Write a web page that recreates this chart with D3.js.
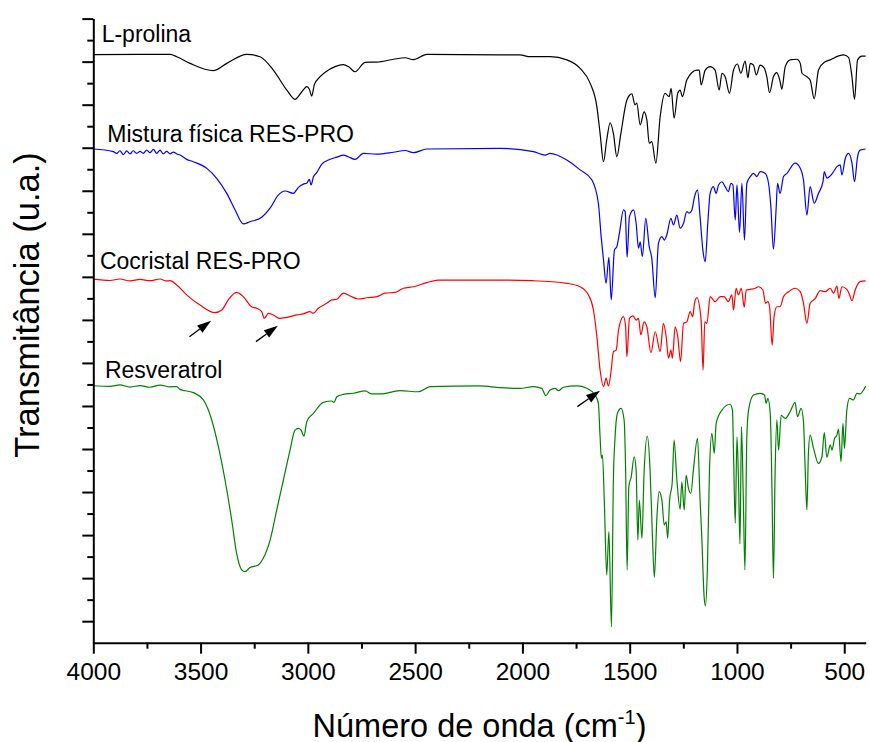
<!DOCTYPE html>
<html>
<head>
<meta charset="utf-8">
<script src="https://cdn.jsdelivr.net/npm/d3@7/dist/d3.min.js"></script>
<style>
  html, body { margin: 0; padding: 0; background: #fff; }
  svg { display: block; }
  text { font-family: Arial, "Liberation Sans", Helvetica, sans-serif; fill: #000; }
</style>
</head>
<body>
<svg id="chart" width="869" height="742"></svg>
<script>
// ---- Data (wavenumber cm-1, transmittance in arbitrary stacked units) ----
const lProlina = [
[4000,27.33],[3642,27.34],[3611,27.23],[3549,26.92],[3441,26.58],[3378,26.92],[3285,27.34],[3223,27.23],[3161,26.61],[3098,25.68],[3060,25.25],[3028,25.60],[3005,25.84],[2993,25.72],[2982,25.40],[2970,25.92],[2943,26.30],[2904,26.61],[2873,26.77],[2835,26.86],[2811,26.77],[2780,26.53],[2733,26.97],[2679,26.98],[2601,27.11],[2547,27.18],[2508,27.09],[2446,27.34],[2104,27.31],[2011,27.31],[1964,27.23],[1871,27.23],[1793,27.08],[1731,26.69],[1684,25.99],[1653,24.91],[1638,23.67],[1622,22.35],[1607,23.36],[1591,24.16],[1576,23.67],[1560,22.58],[1541,23.67],[1513,25.22],[1490,25.50],[1475,24.99],[1467,25.07],[1451,24.06],[1433,24.67],[1420,24.29],[1409,23.21],[1397,23.28],[1378,22.28],[1358,24.44],[1335,25.53],[1316,25.37],[1307,25.76],[1293,24.37],[1276,25.53],[1265,25.68],[1254,25.37],[1234,26.15],[1187,26.61],[1176,26.61],[1167,25.92],[1148,26.61],[1125,26.77],[1102,26.61],[1083,25.68],[1070,26.46],[1055,26.30],[1035,25.53],[1016,26.61],[998,26.89],[982,26.46],[962,27.03],[949,26.25],[938,26.92],[923,26.84],[910,26.38],[892,26.84],[872,26.69],[861,26.30],[848,25.56],[830,26.30],[814,26.49],[799,26.07],[791,25.72],[775,26.77],[752,27.08],[721,27.11],[705,26.92],[697,26.46],[674,26.30],[659,26.15],[640,25.27],[620,26.61],[589,27.00],[565,27.08],[550,27.16],[503,27.31],[480,27.20],[464,26.30],[452,25.25],[438,27.08],[418,27.26],[400,27.26]
];
const misturaFisica = [
[4000,22.94],[3907,22.82],[3891,22.74],[3876,22.86],[3860,22.68],[3844,22.85],[3829,22.71],[3814,22.86],[3798,22.74],[3782,22.83],[3767,22.74],[3751,22.89],[3736,22.77],[3720,22.92],[3704,22.74],[3689,22.89],[3674,22.71],[3658,22.83],[3642,22.71],[3627,22.80],[3611,22.71],[3596,22.66],[3565,22.46],[3534,22.35],[3471,22.04],[3425,21.58],[3378,20.88],[3339,20.11],[3301,19.46],[3270,19.56],[3215,19.77],[3176,20.19],[3138,20.80],[3106,20.99],[3068,20.88],[3044,21.16],[3021,21.31],[3005,21.35],[2993,21.53],[2985,21.27],[2974,21.65],[2959,21.84],[2935,22.24],[2904,22.43],[2865,22.56],[2834,22.66],[2811,22.58],[2780,22.46],[2741,22.74],[2679,22.70],[2601,22.79],[2547,22.87],[2508,22.77],[2446,22.94],[2104,22.97],[1949,22.82],[1894,22.66],[1871,22.74],[1793,22.43],[1731,21.97],[1676,21.50],[1646,20.42],[1633,18.87],[1622,17.78],[1610,16.70],[1597,17.91],[1586,15.93],[1571,18.25],[1560,18.40],[1548,19.02],[1529,20.11],[1521,20.03],[1512,17.91],[1501,19.80],[1482,20.11],[1470,19.49],[1459,18.33],[1451,18.63],[1441,17.94],[1425,19.72],[1409,18.40],[1397,17.86],[1381,16.03],[1366,18.56],[1350,18.87],[1339,18.71],[1327,18.95],[1308,19.72],[1296,19.41],[1280,19.87],[1265,19.26],[1249,19.49],[1234,20.03],[1223,19.96],[1210,20.11],[1198,20.72],[1184,21.03],[1172,19.80],[1159,18.25],[1148,17.70],[1136,19.49],[1125,20.88],[1110,21.19],[1097,20.88],[1086,21.27],[1070,21.42],[1055,21.19],[1040,20.96],[1028,21.35],[1019,21.27],[1008,19.64],[1000,21.27],[988,19.07],[977,21.35],[965,18.71],[954,21.35],[938,21.66],[923,21.81],[907,21.66],[892,21.89],[869,21.81],[853,21.35],[842,20.26],[830,18.29],[817,20.26],[811,21.35],[799,20.88],[783,21.66],[767,21.81],[729,22.28],[705,22.05],[690,21.50],[674,19.87],[659,21.19],[640,20.42],[620,20.88],[599,21.42],[593,21.89],[581,21.59],[557,21.78],[534,22.12],[519,22.20],[511,21.73],[495,22.51],[480,22.74],[464,22.28],[452,21.42],[438,22.58],[426,22.89],[400,22.94]
];
const cocristal = [
[4000,16.89],[3922,16.83],[3876,16.90],[3829,16.81],[3782,16.88],[3736,16.82],[3689,16.90],[3661,16.81],[3642,16.82],[3611,16.62],[3565,16.16],[3503,15.69],[3433,15.34],[3401,15.46],[3371,15.93],[3332,16.28],[3301,16.08],[3262,15.61],[3238,15.54],[3215,15.38],[3203,15.07],[3184,15.30],[3161,15.23],[3133,15.07],[3098,15.12],[3052,15.23],[3021,15.28],[2990,15.38],[2974,15.31],[2951,15.54],[2912,15.77],[2889,15.93],[2865,15.96],[2834,16.24],[2803,16.11],[2765,15.97],[2725,16.03],[2679,16.08],[2640,16.24],[2593,16.28],[2555,16.47],[2508,16.54],[2446,16.73],[2392,16.85],[2104,16.85],[1949,16.82],[1793,16.70],[1731,16.54],[1692,16.16],[1669,15.46],[1653,14.22],[1638,12.67],[1622,11.90],[1610,12.29],[1599,11.93],[1586,12.67],[1576,13.52],[1563,13.60],[1552,14.53],[1529,15.15],[1519,14.68],[1513,13.29],[1501,15.07],[1485,15.19],[1470,14.99],[1459,15.07],[1448,14.30],[1433,14.91],[1420,14.68],[1401,13.48],[1381,14.45],[1358,13.52],[1343,14.84],[1330,14.22],[1319,13.22],[1308,13.60],[1301,13.22],[1288,14.68],[1276,14.22],[1263,13.06],[1249,14.84],[1234,14.91],[1218,15.38],[1206,15.15],[1198,15.77],[1187,16.03],[1167,14.99],[1158,12.67],[1150,14.91],[1140,14.84],[1125,16.08],[1102,15.85],[1078,16.08],[1060,16.08],[1040,15.85],[1024,16.16],[1016,15.46],[1004,16.47],[993,16.16],[980,16.47],[966,15.59],[957,16.39],[938,16.42],[915,16.47],[900,16.54],[879,16.39],[867,15.77],[856,15.85],[848,15.61],[836,13.83],[827,15.15],[814,15.61],[799,15.61],[783,16.08],[759,16.31],[729,16.47],[705,16.31],[690,15.77],[674,14.84],[659,15.77],[635,16.00],[612,16.36],[589,16.31],[565,16.47],[550,16.24],[534,16.57],[525,16.00],[511,16.54],[488,16.42],[475,16.16],[464,15.89],[449,16.39],[426,16.78],[400,16.81]
];
const resveratrol = [
[4000,11.94],[3922,11.91],[3876,11.98],[3829,11.88],[3782,11.95],[3736,11.87],[3689,11.97],[3642,11.89],[3611,11.90],[3596,11.77],[3534,11.62],[3487,11.28],[3448,10.35],[3417,9.11],[3386,7.56],[3355,5.70],[3332,4.15],[3308,3.38],[3293,3.30],[3270,3.49],[3231,3.61],[3208,3.92],[3176,4.77],[3145,6.17],[3114,7.56],[3083,8.95],[3060,9.88],[3044,9.96],[3032,9.88],[3018,9.60],[3005,10.27],[2974,10.66],[2928,11.17],[2889,11.23],[2878,11.17],[2865,11.43],[2834,11.54],[2788,11.59],[2733,11.70],[2702,11.56],[2663,11.56],[2570,11.71],[2485,11.66],[2430,11.90],[2197,11.93],[2104,11.85],[2011,11.82],[1949,11.90],[1910,11.82],[1891,11.48],[1871,11.74],[1848,11.82],[1832,11.71],[1809,11.87],[1746,11.93],[1700,11.82],[1661,11.51],[1646,11.12],[1638,9.57],[1632,8.57],[1627,8.72],[1618,6.48],[1607,3.15],[1597,5.16],[1585,0.74],[1576,7.56],[1568,9.57],[1557,10.66],[1540,10.89],[1526,10.35],[1519,8.03],[1512,3.38],[1504,7.25],[1493,7.71],[1479,8.64],[1470,8.03],[1462,4.77],[1455,6.63],[1443,4.85],[1433,7.87],[1418,9.60],[1405,8.03],[1394,4.93],[1385,3.04],[1373,5.86],[1363,7.02],[1350,6.63],[1339,5.47],[1330,5.62],[1323,4.85],[1314,6.63],[1302,7.41],[1293,9.42],[1280,7.56],[1265,6.20],[1257,7.48],[1246,6.17],[1237,7.79],[1226,7.17],[1215,6.94],[1203,8.03],[1184,9.50],[1172,6.63],[1164,4.93],[1153,2.14],[1147,1.71],[1138,3.38],[1128,8.03],[1117,9.73],[1106,8.80],[1097,10.19],[1070,10.81],[1032,11.08],[1021,10.81],[1016,8.80],[1008,5.55],[1000,9.57],[993,7.56],[986,4.59],[979,10.04],[970,6.48],[963,3.38],[954,9.57],[946,10.81],[923,11.51],[892,11.59],[872,11.51],[864,11.12],[856,11.35],[845,10.66],[837,7.25],[830,2.99],[822,8.03],[814,10.35],[806,8.95],[794,10.57],[775,10.42],[752,10.73],[729,11.17],[718,10.50],[701,10.89],[690,10.27],[682,8.03],[674,6.17],[667,8.80],[659,9.65],[643,9.03],[620,8.33],[604,8.64],[593,9.76],[581,8.61],[565,9.19],[557,8.95],[545,9.50],[534,9.65],[527,9.92],[515,8.41],[506,10.19],[499,9.03],[488,10.81],[475,11.35],[457,11.28],[441,11.59],[426,11.56],[410,11.74],[400,11.93]
];

const seriesNames  = ["L-prolina", "Mistura física RES-PRO", "Cocristal RES-PRO", "Resveratrol"];
const seriesColors = ["#000000", "#0000ff", "#ff0000", "#008000"];
const seriesData   = [lProlina, misturaFisica, cocristal, resveratrol];
// label anchor positions (wavenumber, value)
const labelPos = [[3961, 27.93], [3935, 23.25], [3969, 17.37], [3946, 12.28]];

const xTicksMajor = [4000, 3500, 3000, 2500, 2000, 1500, 1000, 500];
const xTicksMinor = [3750, 3250, 2750, 2250, 1750, 1250, 750];
const xDomain = [4000, 400];
const yDomain = [0, 29];

// arrows: [tail wavenumber, tail value, tip wavenumber, tip value]
const arrows = [
  [3552, 14.22, 3451, 14.96],
  [3242, 13.99, 3140, 14.73],
  [1744, 10.97, 1638, 11.71]
];

// ---- Drawing ----
(function () {
const svg = d3.select("#chart");
const mLeft = 93.3, mRight = 865.7, mTop = 18.6, mBottom = 642.7;

const x = d3.scaleLinear().domain(xDomain).range([mLeft, mRight]);
const y = d3.scaleLinear().domain(yDomain).range([mBottom, mTop]);

const line = d3.line()
  .x(d => x(d[0]))
  .y(d => y(d[1]))
  .curve(d3.curveMonotoneX);

const g = svg.append("g");

seriesData.forEach((data, i) => {
  g.append("path")
    .datum(data)
    .attr("fill", "none")
    .attr("stroke", seriesColors[i])
    .attr("stroke-width", 1.2)
    .attr("stroke-linejoin", "round")
    .attr("d", line);
});

seriesNames.forEach((name, i) => {
  g.append("text")
    .attr("x", x(labelPos[i][0]))
    .attr("y", y(labelPos[i][1]))
    .attr("font-size", 23)
    .text(name);
});

arrows.forEach(a => {
  const x0 = x(a[0]), y0 = y(a[1]), x1 = x(a[2]), y1 = y(a[3]);
  const dx = x1 - x0, dy = y1 - y0, len = Math.hypot(dx, dy);
  const ux = dx / len, uy = dy / len;
  const hl = 14, hw = 4.5;
  const bx = x1 - ux * hl, by = y1 - uy * hl;
  g.append("line")
    .attr("x1", x0).attr("y1", y0).attr("x2", bx).attr("y2", by)
    .attr("stroke", "#000").attr("stroke-width", 1.3);
  g.append("path")
    .attr("d", `M${x1},${y1} L${bx - uy * hw},${by + ux * hw} L${bx + uy * hw},${by - ux * hw} Z`)
    .attr("fill", "#000");
});

// x axis
const xAxisMajor = d3.axisBottom(x).tickValues(xTicksMajor).tickSize(11).tickSizeOuter(0).tickPadding(9).tickFormat(d3.format("d"));
const xAxisG = svg.append("g").attr("transform", `translate(0,${mBottom})`).call(xAxisMajor);
xAxisG.select(".domain").attr("stroke-width", 2);
xAxisG.selectAll(".tick line").attr("stroke-width", 2);
xAxisG.selectAll(".tick text").attr("font-size", 24.5).attr("font-family", "Arial, 'Liberation Sans', sans-serif");
const xMinorG = svg.append("g").attr("transform", `translate(0,${mBottom})`)
  .call(d3.axisBottom(x).tickValues(xTicksMinor).tickSize(6).tickFormat(""));
xMinorG.select(".domain").remove();
xMinorG.selectAll(".tick line").attr("stroke-width", 2);

// y axis
const yMajor = d3.range(1, 30, 2);
const yMinor = d3.range(2, 29, 2);
const yAxisG = svg.append("g").attr("transform", `translate(${mLeft},0)`)
  .call(d3.axisLeft(y).tickValues(yMajor).tickSize(11).tickSizeOuter(0).tickFormat(""));
yAxisG.select(".domain").attr("stroke-width", 2);
yAxisG.selectAll(".tick line").attr("stroke-width", 2);
const yMinorG = svg.append("g").attr("transform", `translate(${mLeft},0)`)
  .call(d3.axisLeft(y).tickValues(yMinor).tickSize(6).tickFormat(""));
yMinorG.select(".domain").remove();
yMinorG.selectAll(".tick line").attr("stroke-width", 2);

// axis titles
const xt = svg.append("text")
  .attr("x", (mLeft + mRight) / 2)
  .attr("y", 736.5)
  .attr("text-anchor", "middle")
  .attr("font-size", 32.5);
xt.append("tspan").text("Número de onda (cm");
xt.append("tspan").attr("dy", -13).attr("font-size", 20).text("-1");
xt.append("tspan").attr("dy", 13).text(")");

svg.append("text")
  .attr("transform", `translate(39,305) rotate(-90)`)
  .attr("text-anchor", "middle")
  .attr("font-size", 34.5)
  .text("Transmitância (u.a.)");
})();
</script>
</body>
</html>
